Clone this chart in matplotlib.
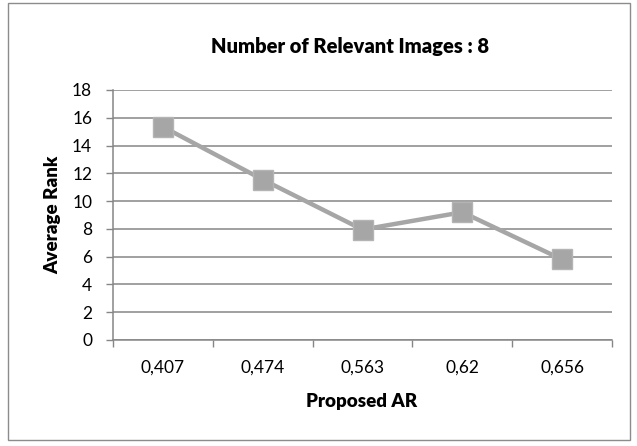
import matplotlib
matplotlib.use("Agg")
import matplotlib.pyplot as plt
from matplotlib.patches import Rectangle
import numpy as np

categories = ["0,407", "0,474", "0,563", "0,62", "0,656"]
average_rank = [15.35, 11.55, 7.95, 9.2, 5.8]
y_ticks = [0, 2, 4, 6, 8, 10, 12, 14, 16, 18]

plt.rcParams['font.family'] = ['Lato', 'DejaVu Sans']

W, H = 637, 446
fig = plt.figure(figsize=(W/100, H/100), dpi=100)
fig.patch.set_facecolor('white')

# outer chart border
fig.add_artist(Rectangle((8/W, 1-440/H), (630-8)/W, (440-3)/H, transform=fig.transFigure,
                         fill=False, edgecolor='#8c8c8c', linewidth=1.0))

ax = fig.add_axes([113/W, 1-340/H, (612-113)/W, (340-90)/H])
x = np.arange(len(categories))
ax.plot(x, average_rank, color='#a6a6a6', linewidth=3.2, marker='s', markersize=14,
        markerfacecolor='#a6a6a6', markeredgecolor='#b4b4b4', markeredgewidth=1, zorder=3)

ax.set_xlim(-0.5, len(categories)-0.5)
ax.set_ylim(0, 18)
ax.set_yticks(y_ticks)
ax.set_yticklabels([str(v) for v in y_ticks], fontsize=12.5)
ax.set_xticks(x)
ax.set_xticklabels(categories, fontsize=12.5)
ax.tick_params(axis='x', which='major', length=0, pad=14)
ax.set_xticks(np.arange(-0.5, len(categories)), minor=True)
ax.tick_params(axis='x', which='minor', length=5, width=1, color='#868686', direction='out')
ax.tick_params(axis='y', length=5, width=1, color='#868686', direction='out', pad=10)

ax.grid(axis='y', color='#868686', linewidth=1.1)
ax.set_axisbelow(True)
for s in ['top', 'right']:
    ax.spines[s].set_visible(False)
for s in ['left', 'bottom']:
    ax.spines[s].set_color('#868686')
    ax.spines[s].set_linewidth(1.1)

fig.text(53/W, 1-215/H, 'Average Rank', fontsize=13.5, fontweight='heavy',
         rotation=90, ha='center', va='center')
fig.text(362/W, 1-401/H, 'Proposed AR', fontsize=13.5, fontweight='heavy',
         ha='center', va='center')
fig.text(350/W, 1-47/H, 'Number of Relevant Images : 8', fontsize=14.5, fontweight='heavy',
         ha='center', va='center')

fig.savefig('out.png', dpi=100)
